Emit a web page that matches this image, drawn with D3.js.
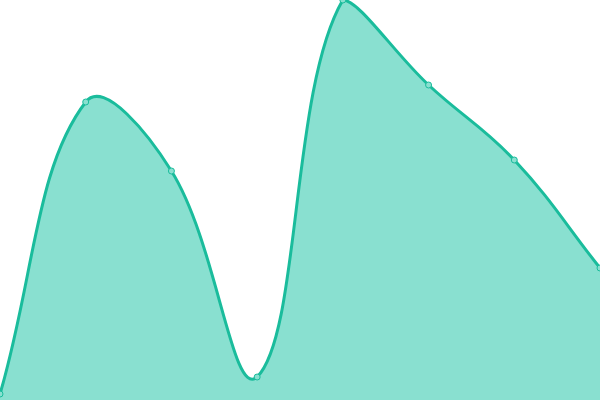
<!DOCTYPE html>
<html>
<head>
<meta charset="utf-8">
<script src="https://cdn.jsdelivr.net/npm/d3@7"></script>
<style>
  body { margin: 0; background: #fff; }
  svg { display: block; }
</style>
</head>
<body>
<div id="chart"></div>
<script>
let width = 600;
let height = 400;

let steps = [0, 1, 2, 3, 4, 5, 6, 7];
let values = [6, 298, 229, 23, 400, 315, 240, 132];

let tension = 0.4;

let svg = d3.select("#chart")
    .append("svg")
    .attr("width", width)
    .attr("height", height);

let x = d3.scaleLinear().domain([0, 7]).range([0, width]);
let y = d3.scaleLinear().domain([0, 400]).range([height, 0]);

let pts = steps.map((s, i) => ({ x: x(s), y: y(values[i]) }));

// tension spline, control points kept inside the plot
function controls(p) {
    let out = [];
    for (let i = 0; i < p.length; i++) {
        let prev = p[Math.max(0, i - 1)], cur = p[i], next = p[Math.min(p.length - 1, i + 1)];
        let d01 = Math.hypot(cur.x - prev.x, cur.y - prev.y);
        let d12 = Math.hypot(next.x - cur.x, next.y - cur.y);
        let s01 = d01 / (d01 + d12), s12 = d12 / (d01 + d12);
        if (isNaN(s01)) s01 = 0;
        if (isNaN(s12)) s12 = 0;
        let fa = tension * s01, fb = tension * s12;
        let cl = (v, lo, hi) => Math.max(lo, Math.min(hi, v));
        out.push({
            px: cl(cur.x - fa * (next.x - prev.x), 0, width),
            py: cl(cur.y - fa * (next.y - prev.y), 0, height),
            nx: cl(cur.x + fb * (next.x - prev.x), 0, width),
            ny: cl(cur.y + fb * (next.y - prev.y), 0, height)
        });
    }
    return out;
}

function splinePath(p, ctx) {
    let c = controls(p);
    ctx.moveTo(p[0].x, p[0].y);
    for (let i = 1; i < p.length; i++) {
        ctx.bezierCurveTo(c[i - 1].nx, c[i - 1].ny, c[i].px, c[i].py, p[i].x, p[i].y);
    }
    return ctx;
}

let linePath = splinePath(pts, d3.path()).toString();
let areaCtx = splinePath(pts, d3.path());
areaCtx.lineTo(pts[pts.length - 1].x, height);
areaCtx.lineTo(pts[0].x, height);
areaCtx.closePath();

svg.append("path")
    .attr("d", areaCtx.toString())
    .style("fill", "#89e0d0");

svg.append("path")
    .attr("d", linePath)
    .style("fill", "none")
    .style("stroke", "#1abc9c")
    .style("stroke-width", 3);

svg.selectAll("circle")
    .data(pts)
    .enter().append("circle")
    .attr("cx", d => d.x)
    .attr("cy", d => d.y)
    .attr("r", 3)
    .style("fill", "#89e0d0")
    .style("stroke", "#1abc9c")
    .style("stroke-width", 1);
</script>
</body>
</html>
